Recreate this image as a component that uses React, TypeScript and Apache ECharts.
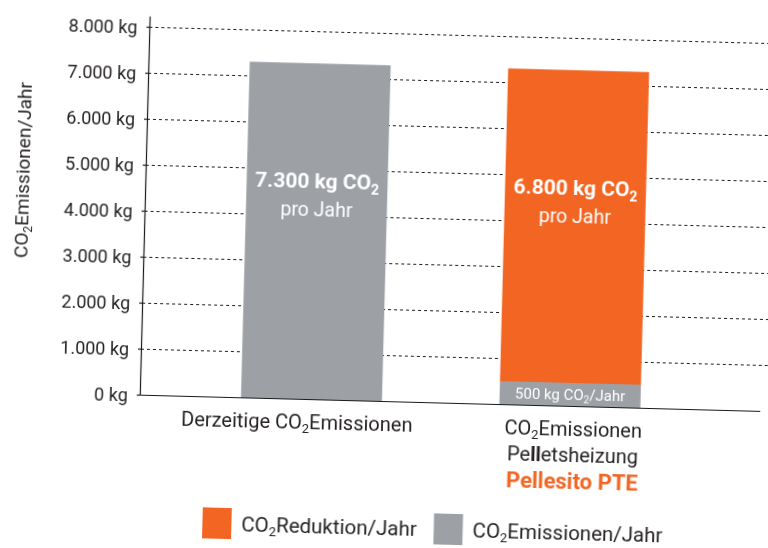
import React, { useEffect, useRef } from 'react';
import * as echarts from 'echarts';

// ---------- data ----------
const categories = ['Derzeitige CO2Emissionen', 'CO2Emissionen\nPelletsheizung'];
const productName = 'Pellesito PTE';
const emissionsName = 'CO2Emissionen/Jahr';
const reductionName = 'CO2Reduktion/Jahr';
const emissions = [7300, 500];
const reduction: (number | null)[] = [null, 6800];
const yMin = 0;
const yMax = 8000;
const yInterval = 1000;
const unit = 'kg';
const yTitle = 'CO2Emissionen/Jahr';
const perYear = 'pro Jahr';

// ---------- styles ----------
const FONT = 'Roboto, "Noto Sans", sans-serif';
const ORANGE = '#F26522';
const GRAY = '#9DA1A6';
const TEXT = '#231F20';

const fmt = (v: number) => String(v).replace(/\B(?=(\d{3})+(?!\d))/g, '.');

function co2Rich(text: string, m: string, s: string) {
  return text
    .split('\n')
    .map((line) =>
      line
        .split('CO2')
        .map((p) => (p ? `{${m}|${p}}` : ''))
        .join(`{${m}|CO}{${s}|2}`)
    )
    .join('\n');
}

function makeRich(size: number, subSize: number, lh: number, color: string, weight: string = 'normal') {
  return {
    m: { fontFamily: FONT, fontSize: size, lineHeight: lh, color, fontWeight: weight },
    s: {
      fontFamily: FONT,
      fontSize: subSize,
      lineHeight: Math.round(subSize * 1.15),
      color,
      fontWeight: weight,
      verticalAlign: 'bottom',
    },
  };
}

export default function App() {
  const ref = useRef<HTMLDivElement>(null);

  useEffect(() => {
    if (!ref.current) return;
    const chart = echarts.init(ref.current, undefined, { renderer: 'svg' });

    const catRich = {
      ...makeRich(20, 13, 26, TEXT),
      nb: { fontFamily: FONT, fontSize: 20, lineHeight: 26, color: TEXT, fontWeight: 'bold' },
      o: { fontFamily: FONT, fontSize: 22, lineHeight: 26, color: ORANGE, fontWeight: 'bold' },
    };

    const bigLabelRich = {
      b: { fontFamily: FONT, fontSize: 21, lineHeight: 28, color: '#fff', fontWeight: 'bold' },
      bs: {
        fontFamily: FONT,
        fontSize: 14,
        lineHeight: 16,
        color: '#fff',
        fontWeight: 'bold',
        verticalAlign: 'bottom',
      },
      p: { fontFamily: FONT, fontSize: 19.5, lineHeight: 28, color: '#fff' },
    };

    const bigLabel = {
      show: true,
      position: ['50%', 104],
      align: 'center',
      verticalAlign: 'top',
      formatter: (p: any) => `${co2Rich(`${fmt(p.value)} ${unit} CO2`, 'b', 'bs')}\n{p|${perYear}}`,
      rich: bigLabelRich,
    };

    const smallLabel = {
      show: true,
      position: 'inside',
      formatter: (p: any) => co2Rich(`${fmt(p.value)} ${unit} CO2/Jahr`, 'm', 's'),
      rich: makeRich(15, 10, 20, '#fff'),
    };

    const option: any = {
      animation: false,
      textStyle: { fontFamily: FONT },
      grid: [
        { left: 185.5, top: 33, width: 517, height: 368 },
        { left: 143, top: 33, width: 680, height: 368 },
        { left: 143, top: 23, width: 620, height: 378 },
      ],
      xAxis: [
        {
          gridIndex: 0,
          type: 'category',
          data: categories.map((c, i) => ({
            value: c,
            textStyle: { padding: i === 0 ? [0, 28, 0, 0] : [0, 0, 0, 8] },
          })),
          axisLine: { show: false },
          axisTick: { show: false },
          axisLabel: {
            margin: 10,
            interval: 0,
            formatter: (val: string, idx: number) => {
              const lines = val.split('\n').map((line) =>
                line.startsWith('Pell')
                  ? `{m|Pe}{nb|ll}{m|${line.slice(4)}}`
                  : co2Rich(line, 'm', 's')
              );
              if (idx === 1) lines.push(`{o|${productName}}`);
              return lines.join('\n');
            },
            rich: catRich,
          },
        },
        { gridIndex: 1, type: 'value', show: false, min: 0, max: 1 },
        {
          gridIndex: 2,
          type: 'value',
          min: 0,
          max: 1,
          axisLine: { show: true, onZero: false, lineStyle: { color: '#1a1a1a', width: 1.2 } },
          axisTick: { show: false },
          axisLabel: { show: false },
          splitLine: { show: false },
        },
      ],
      yAxis: [
        { gridIndex: 0, type: 'value', min: yMin, max: yMax, show: false },
        {
          gridIndex: 1,
          type: 'value',
          min: yMin,
          max: yMax,
          interval: yInterval,
          axisLine: { show: false },
          axisTick: { show: true, length: 5, lineStyle: { color: '#1e1e1e', width: 1.2, type: [3, 3] } },
          axisLabel: {
            margin: 12,
            color: TEXT,
            fontSize: 18,
            fontFamily: FONT,
            formatter: (v: number) => `${fmt(v)} ${unit}`,
          },
          splitLine: {
            show: true,
            showMinLine: false,
            lineStyle: { color: '#1e1e1e', width: 1.2, type: [3, 3] },
          },
        },
        {
          gridIndex: 2,
          type: 'value',
          min: 0,
          max: 1,
          axisLine: { show: true, onZero: false, lineStyle: { color: '#1a1a1a', width: 1.2 } },
          axisTick: { show: false },
          axisLabel: { show: false },
          splitLine: { show: false },
        },
      ],
      legend: {
        data: [reductionName, emissionsName],
        left: 204,
        top: 507,
        icon: 'rect',
        itemWidth: 29,
        itemHeight: 31,
        itemGap: 17,
        formatter: (name: string) => co2Rich(name, 'm', 's'),
        textStyle: {
          padding: [0, 0, 0, 5],
          rich: makeRich(20.5, 13, 26, TEXT),
        },
      },
      graphic: [
        {
          type: 'text',
          x: 20.5,
          y: 179.5,
          rotation: Math.PI / 2,
          style: {
            text: co2Rich(yTitle, 'm', 's'),
            align: 'center',
            verticalAlign: 'middle',
            fill: TEXT,
            rich: {
              m: { fontFamily: FONT, fontSize: 19, lineHeight: 24, fill: TEXT },
              s: { fontFamily: FONT, fontSize: 12, lineHeight: 14, fill: TEXT, verticalAlign: 'bottom' },
            },
          },
        },
      ],
      series: [
        {
          name: emissionsName,
          type: 'bar',
          stack: 'total',
          xAxisIndex: 0,
          yAxisIndex: 0,
          barWidth: 141,
          itemStyle: { color: GRAY },
          data: emissions.map((v, i) => ({
            value: v,
            label: i === 0 ? bigLabel : smallLabel,
          })),
        },
        {
          name: reductionName,
          type: 'bar',
          stack: 'total',
          xAxisIndex: 0,
          yAxisIndex: 0,
          barWidth: 141,
          itemStyle: { color: ORANGE },
          data: reduction.map((v) => (v == null ? '-' : { value: v, label: bigLabel })),
        },
      ],
    };

    chart.setOption(option);
    return () => chart.dispose();
  }, []);

  return (
    <div
      ref={ref}
      style={{
        position: 'fixed',
        left: 0,
        top: 0,
        width: 800,
        height: 560,
        transform: 'rotate(1.5deg)',
        transformOrigin: '384px 274px',
        background: '#fff',
      }}
    />
  );
}
